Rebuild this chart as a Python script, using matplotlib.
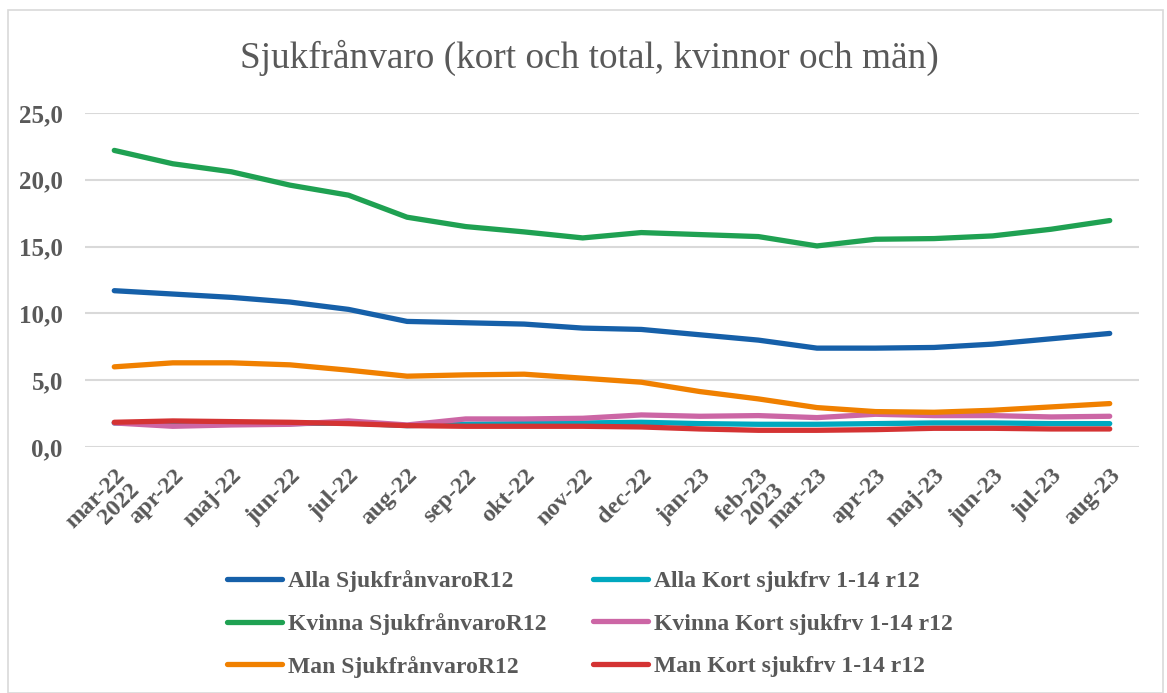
import matplotlib
matplotlib.use("Agg")
import matplotlib.pyplot as plt
from matplotlib.patches import Rectangle

plt.rcParams['font.family'] = ['Liberation Serif', 'DejaVu Serif']

months = ["mar-22\n2022", "apr-22", "maj-22", "jun-22", "jul-22", "aug-22", "sep-22", "okt-22",
          "nov-22", "dec-22", "jan-23", "feb-23\n2023", "mar-23", "apr-23", "maj-23", "jun-23",
          "jul-23", "aug-23"]

alla_r12 = [11.7, 11.45, 11.2, 10.85, 10.3, 9.4, 9.3, 9.2, 8.9, 8.8, 8.4, 8.0, 7.4, 7.4, 7.45, 7.7, 8.1, 8.5]
alla_kort = [1.8, 1.75, 1.75, 1.75, 1.8, 1.6, 1.7, 1.75, 1.8, 1.85, 1.75, 1.7, 1.7, 1.75, 1.8, 1.8, 1.75, 1.75]
kvinna_r12 = [22.2, 21.2, 20.6, 19.6, 18.85, 17.2, 16.5, 16.1, 15.65, 16.05, 15.9, 15.75, 15.05, 15.55, 15.6, 15.8, 16.3, 16.95]
kvinna_kort = [1.8, 1.55, 1.65, 1.7, 1.95, 1.65, 2.1, 2.1, 2.15, 2.4, 2.3, 2.35, 2.2, 2.45, 2.35, 2.35, 2.25, 2.3]
man_r12 = [6.0, 6.3, 6.3, 6.15, 5.75, 5.3, 5.4, 5.45, 5.15, 4.85, 4.15, 3.6, 2.95, 2.65, 2.6, 2.75, 3.0, 3.25]
man_kort = [1.85, 1.95, 1.9, 1.85, 1.75, 1.6, 1.55, 1.55, 1.55, 1.5, 1.35, 1.25, 1.25, 1.3, 1.4, 1.4, 1.35, 1.35]

series = [
    ("Alla SjukfrånvaroR12", alla_r12, "#1660A9"),
    ("Alla Kort sjukfrv 1-14 r12", alla_kort, "#00A8BF"),
    ("Kvinna SjukfrånvaroR12", kvinna_r12, "#1FA152"),
    ("Kvinna Kort sjukfrv 1-14 r12", kvinna_kort, "#CC66A5"),
    ("Man SjukfrånvaroR12", man_r12, "#F08000"),
    ("Man Kort sjukfrv 1-14 r12", man_kort, "#D43333"),
]

TXT = "#595959"
W, H = 1167, 693
fig = plt.figure(figsize=(W / 100, H / 100), dpi=100)
fig.add_artist(Rectangle((8 / W, 0), 1 - 12 / W, 1 - 10 / H, transform=fig.transFigure,
                         fill=False, edgecolor="#D9D9D9", lw=1.2))

ax = fig.add_axes([85 / W, 1 - 447 / H, (1139 - 85) / W, (447 - 113) / H])
x = list(range(len(months)))
lines = {}
for name, vals, col in series:
    ln, = ax.plot(x, vals, color=col, lw=3.8, solid_capstyle='round', solid_joinstyle='round', label=name)
    lines[name] = ln

ax.set_xlim(-0.5, len(months) - 0.5)
ax.set_ylim(0, 25)
ax.set_yticks([0, 5, 10, 15, 20, 25])
ax.set_yticklabels(["0,0", "5,0", "10,0", "15,0", "20,0", "25,0"])
ax.yaxis.grid(True, color="#D9D9D9", lw=1.5)
ax.set_axisbelow(True)
for s in ax.spines.values():
    s.set_visible(False)
ax.tick_params(axis='both', length=0)
ax.tick_params(axis='y', pad=16, labelsize=18, labelcolor=TXT)
for t in ax.get_yticklabels():
    t.set_fontweight('bold')
ax.set_xticks(x)
ax.set_xticklabels(months, rotation=45, ha='right', va='top', rotation_mode='anchor',
                   fontsize=17.5, fontweight='bold', color=TXT, linespacing=0.95)
ax.tick_params(axis='x', pad=13)

fig.text(0.505, 1 - 58 / H, "Sjukfrånvaro (kort och total, kvinnor och män)", ha='center', va='center',
         fontsize=26.8, color=TXT)

order = ["Alla SjukfrånvaroR12", "Kvinna SjukfrånvaroR12", "Man SjukfrånvaroR12",
         "Alla Kort sjukfrv 1-14 r12", "Kvinna Kort sjukfrv 1-14 r12", "Man Kort sjukfrv 1-14 r12"]
leg = fig.legend([lines[n] for n in order], order, ncol=2, loc='center',
                 bbox_to_anchor=(590 / W, 1 - 624 / H), frameon=False,
                 prop={'size': 17, 'weight': 'bold'}, handlelength=2.33, handletextpad=0.25,
                 columnspacing=1.95, labelspacing=0.88)
for t in leg.get_texts():
    t.set_color(TXT)

fig.savefig("out.png", dpi=100)
